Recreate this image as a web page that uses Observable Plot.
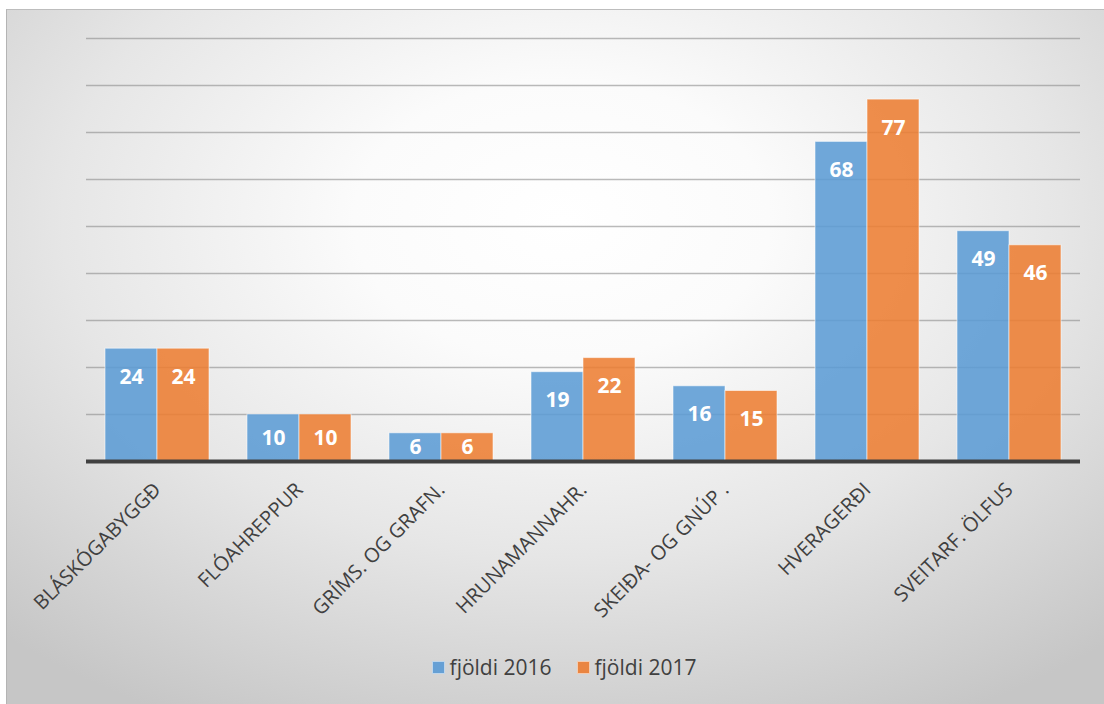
<!DOCTYPE html>
<html>
<head>
<meta charset="utf-8">
<script src="https://cdn.jsdelivr.net/npm/d3@7"></script>
<script src="https://cdn.jsdelivr.net/npm/@observablehq/plot@0.6"></script>
<style>
  html, body { margin: 0; padding: 0; background: #ffffff; }
  body { width: 1104px; height: 704px; position: relative; overflow: hidden; font-family: "Open Sans", sans-serif; }
  #frame {
    position: absolute; left: 6px; top: 9px; width: 1110px; height: 700px;
    border-left: 1.5px solid #b4b4b4; border-top: 1.5px solid #bdbdbd;
    background: radial-gradient(ellipse 75% 80% at 50% 30%, #ffffff 0%, #fbfbfb 25%, #e6e6e6 60%, #c6c6c6 100%);
  }
  #chart { position: absolute; left: 0; top: 0; }
  #legend {
    position: absolute; left: 0; width: 1128px; top: 653px;
    display: flex; justify-content: center; gap: 25px;
    font-size: 21px; color: #404040;
  }
  #legend .item { display: flex; align-items: center; gap: 5px; }
  #legend .sw { width: 13px; height: 13px; box-sizing: border-box; border: 1px solid rgba(255,255,255,0.6); }
</style>
</head>
<body>
<div id="frame"></div>
<div id="chart"></div>
<div id="legend"></div>
<script>
const categories = ["BLÁSKÓGABYGGÐ", "FLÓAHREPPUR", "GRÍMS. OG GRAFN.", "HRUNAMANNAHR.", "SKEIÐA- OG GNÚP .", "HVERAGERÐI", "SVEITARF. ÖLFUS"];
const series = ["fjöldi 2016", "fjöldi 2017"];
const values2016 = [24, 10, 6, 19, 16, 68, 49];
const values2017 = [24, 10, 6, 22, 15, 77, 46];
const colors = ["#5B9BD5", "#ED7D31"];
const gridTicks = [10, 20, 30, 40, 50, 60, 70, 80, 90];

const data = [];
categories.forEach((c, i) => {
  data.push({cat: c, series: series[0], value: values2016[i]});
  data.push({cat: c, series: series[1], value: values2017[i]});
});

const chart = Plot.plot({
  width: 1104,
  height: 640,
  marginTop: 38,
  marginBottom: 179,
  marginLeft: 83,
  marginRight: 21,
  style: {background: "transparent", fontFamily: "Open Sans, sans-serif", color: "#404040", overflow: "visible"},
  fx: {domain: categories, padding: 0, label: null, tickRotate: -45, tickSize: 0, tickPadding: 25},
  x: {domain: series, axis: null, paddingInner: 0, paddingOuter: 0.349},
  y: {domain: [0, 90], axis: null},
  color: {domain: series, range: colors},
  marks: [
    Plot.ruleY(gridTicks, {stroke: "#8c8c8c", strokeOpacity: 0.6, strokeWidth: 1.5}),
    Plot.barY(data, {fx: "cat", x: "series", y: "value", fill: "series", fillOpacity: 0.87, stroke: "#ffffff", strokeOpacity: 0.55, strokeWidth: 1}),
    Plot.text(data, {fx: "cat", x: "series", y: d => Math.max(d.value - 6, d.value / 2), text: d => String(d.value), fill: "#ffffff", fontSize: 21, fontWeight: "bold", textAnchor: "middle", lineAnchor: "middle"}),
    Plot.ruleY([0], {stroke: "#404040", strokeWidth: 4})
  ]
});
chart.querySelectorAll('g[aria-label^="fx-axis"]').forEach(g => {
  g.setAttribute("font-size", "20");
  g.style.fontSize = "20px";
  g.setAttribute("fill", "#404040");
  g.querySelectorAll("text").forEach(t => { t.style.fontSize = "20px"; t.setAttribute("fill", "#404040"); });
});
document.getElementById("chart").appendChild(chart);

const legend = d3.select("#legend");
series.forEach((s, i) => {
  const item = legend.append("div").attr("class", "item");
  item.append("div").attr("class", "sw").style("background", colors[i]).style("opacity", 0.9);
  item.append("span").text(s);
});
</script>
</body>
</html>
